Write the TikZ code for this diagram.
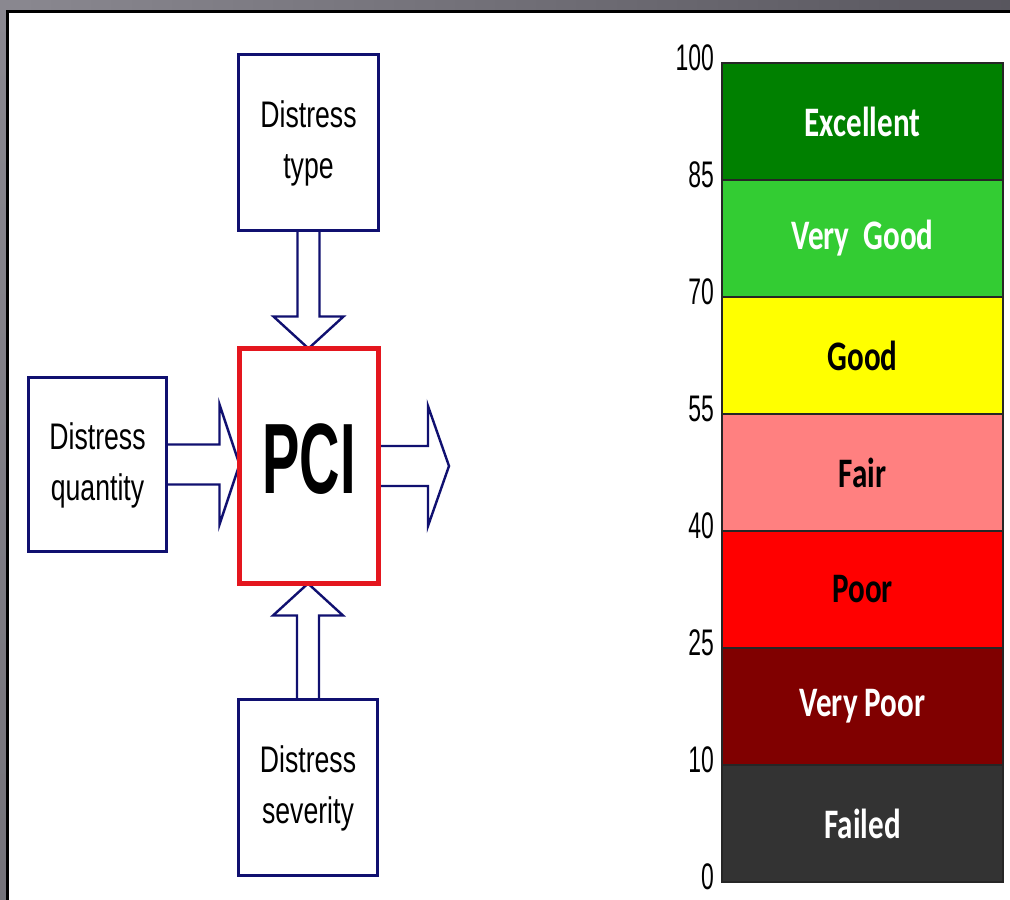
\documentclass[tikz,border=0pt]{standalone}
\usepackage{fontspec}
\setmainfont{Liberation Sans}
\newfontfamily\calfont{Carlito}
\usetikzlibrary{calc,backgrounds}
\definecolor{navy}{RGB}{16,16,112}
\definecolor{pcired}{RGB}{228,22,30}
\definecolor{cexc}{RGB}{0,128,0}
\definecolor{cvg}{RGB}{51,204,51}
\definecolor{cgood}{RGB}{255,255,0}
\definecolor{cfair}{RGB}{255,128,128}
\definecolor{cpoor}{RGB}{255,0,0}
\definecolor{cvp}{RGB}{128,0,0}
\definecolor{cfail}{RGB}{51,51,51}
\definecolor{bgL}{RGB}{138,136,144}
\definecolor{bgM}{RGB}{158,156,164}
\definecolor{bgR}{RGB}{88,86,94}
\newcommand{\boxtxt}[2]{\scalebox{0.72}[1]{\begin{tabular}{@{}c@{}}#1\\#2\end{tabular}}}
\newcommand{\bandtxt}[1]{\scalebox{0.74}[1]{#1}}
\newcommand{\ticktxt}[1]{\scalebox{0.62}[1]{#1}}
\tikzset{
  dbox/.style={draw=navy, line width=3.5pt, minimum width=140pt, minimum height=176pt,
    inner sep=0pt, outer sep=0pt, font=\fontsize{37}{51}\selectfont},
  pcibox/.style={draw=pcired, line width=5pt, minimum width=139pt, minimum height=235pt,
    inner sep=0pt, outer sep=0pt},
  pcitxt/.style={inner sep=0pt, font=\bfseries\fontsize{100}{100}\selectfont},
  barrow/.style={draw=navy, line width=2.4pt, fill=white, line join=miter},
  band/.style={draw=black!85, line width=1.2pt, minimum width=281pt, minimum height=117pt,
    inner sep=0pt, outer sep=0pt, font=\calfont\bfseries\fontsize{42}{48}\selectfont},
  tick/.style={anchor=east, inner sep=0pt, font=\fontsize{37}{40}\selectfont},
}
\begin{document}
\begin{tikzpicture}[x=1pt,y=-1pt]
\useasboundingbox (0,0) rectangle (1010,900);

% diagram boxes
\node[dbox] (type) at (308.5,142.5) {\boxtxt{Distress}{type}};
\node[dbox, minimum width=138pt, minimum height=174pt] (qty) at (97.5,464.5) {\boxtxt{Distress}{quantity}};
\node[dbox, minimum width=139pt] (sev) at (308,787.5) {\boxtxt{Distress}{severity}};
\node[pcibox] (pci) at (309,466) {};
\node[pcitxt] (pcil) at (309,459) {\scalebox{0.56}[1]{PCI}};
\coordinate (out) at (449,466);

\begin{pgfonlayer}{background}
% background frame
\fill[white] (0,0) rectangle (1010,900);
\shade[left color=bgL, middle color=bgM, right color=bgR] (0,0) rectangle (1010,10);
\shade[top color=bgL, bottom color=bgL!85!black] (0,10) rectangle (6,900);
\fill[black] (6,10) rectangle (1010,13);
\fill[black] (6,10) rectangle (9,900);
% top arrow
\draw[barrow] ($(type.south)+(-11,0)$) -- ($(type.south |- pci.north)+(-11,-32)$) -- ++(-24,0)
  -- (type.south |- pci.north) -- ++(35,-32) -- ++(-24,0) -- ($(type.south)+(11,0)$);
% bottom arrow
\draw[barrow] ($(sev.north)+(-11,0)$) -- ($(sev.north |- pci.south)+(-11,32)$) -- ++(-24,0)
  -- (sev.north |- pci.south) -- ++(35,32) -- ++(-24,0) -- ($(sev.north)+(11,0)$);
% left arrow
\draw[barrow] ($(qty.east)+(0,-20)$) -- ($(qty.east -| pci.west)+(-20,-20)$) -- ++(0,-40)
  -- (qty.east -| pci.west) -- ++(-20,60) -- ++(0,-40) -- ($(qty.east)+(0,20)$);
% right arrow
\draw[barrow] ($(pci.east)+(0,-20)$) -- ($(pci.east -| out)+(-21,-20)$) -- ++(0,-40)
  -- (pci.east -| out) -- ++(-21,60) -- ++(0,-40) -- ($(pci.east)+(0,20)$);
\end{pgfonlayer}

% rating scale
\node[band, fill=cexc, text=white] (b1) at (862.5,121.5) {\bandtxt{Excellent}};
\node[band, fill=cvg, text=white] (b2) at (862.5,238.5) {\bandtxt{Very\ \ Good}};
\node[band, fill=cgood, text=black] (b3) at (862.5,355.5) {\bandtxt{Good}};
\node[band, fill=cfair, text=black] (b4) at (862.5,472.5) {\bandtxt{Fair}};
\node[band, fill=cpoor, text=black] (b5) at (862.5,589.5) {\bandtxt{Poor}};
\node[band, fill=cvp, text=white] (b6) at (862.5,706.5) {\bandtxt{Very Poor}};
\node[band, fill=cfail, text=white] (b7) at (862.5,823.5) {\bandtxt{Failed}};

\node[tick] (t100) at (714,58) {\ticktxt{100}};
\node[tick] (t85) at (714,175) {\ticktxt{85}};
\node[tick] (t70) at (714,292) {\ticktxt{70}};
\node[tick] (t55) at (714,409) {\ticktxt{55}};
\node[tick] (t40) at (714,526) {\ticktxt{40}};
\node[tick] (t25) at (714,643) {\ticktxt{25}};
\node[tick] (t10) at (714,760) {\ticktxt{10}};
\node[tick] (t0) at (714,877) {\ticktxt{0}};
\end{tikzpicture}
\end{document}
